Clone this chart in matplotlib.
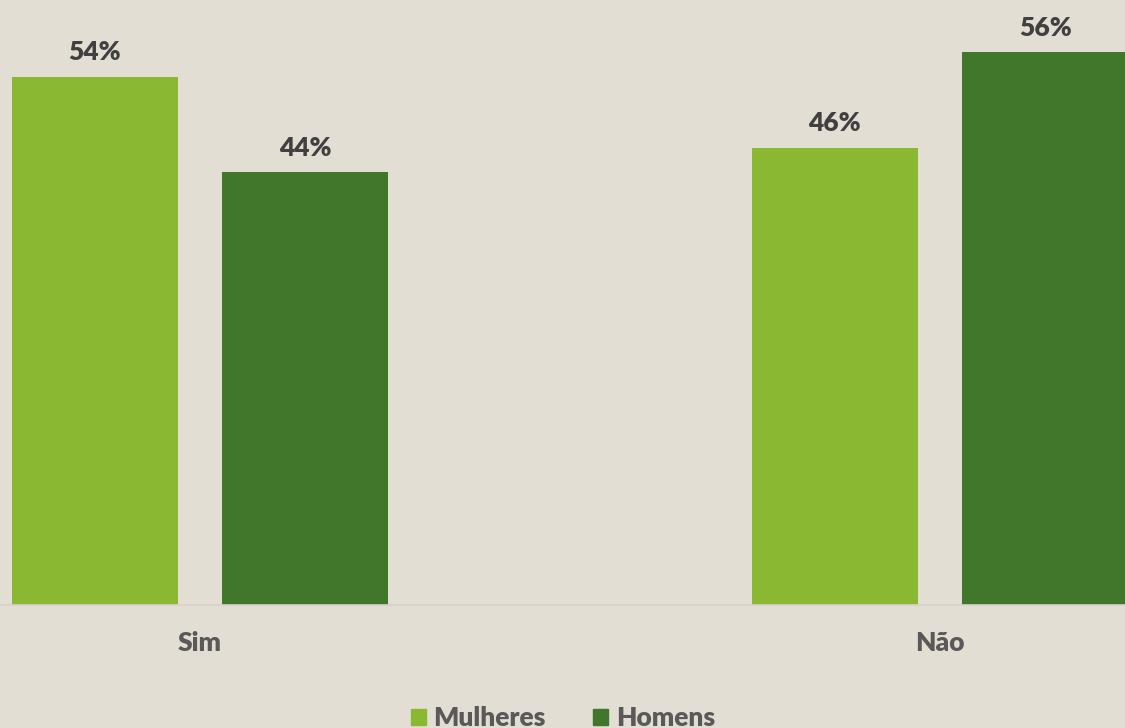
import numpy as np
import matplotlib.pyplot as plt
import matplotlib.patches as mpatches

# === data ===
categories = ["Sim", "Não"]
mulheres = [53.6, 46.4]
homens = [43.9, 56.1]
series_names = ["Mulheres", "Homens"]

# === style ===
bg = "#E3DED3"
c_light = "#8BB833"
c_dark = "#41772A"
label_color = "#404040"
cat_color = "#595959"
plt.rcParams["font.family"] = ["Lato", "DejaVu Sans"]

fig = plt.figure(figsize=(11.25, 7.28), dpi=100, facecolor=bg)
ax = fig.add_axes([0, 123 / 728, 1, 605 / 728])
ax.set_facecolor(bg)

x = np.arange(len(categories))
width = 0.2243
offset = 0.142

b1 = ax.bar(x - offset, mulheres, width, color=c_light, label=series_names[0])
b2 = ax.bar(x + offset, homens, width, color=c_dark, label=series_names[1])

for bars, vals in [(b1, mulheres), (b2, homens)]:
    for rect, v in zip(bars, vals):
        ax.annotate(f"{v:.0f}%", (rect.get_x() + rect.get_width() / 2, rect.get_height()),
                    xytext=(0, 9), textcoords="offset points", ha="center", va="bottom",
                    fontsize=19, fontweight="heavy", color=label_color)

ax.set_xlim(-0.270, 1.250)
ax.set_ylim(0, 61.4)
ax.set_xticks(x)
ax.set_xticklabels(categories, fontsize=19, fontweight="heavy", color=cat_color)
ax.tick_params(axis="x", length=0, pad=19)
ax.set_yticks([])
for s in ["top", "right", "left"]:
    ax.spines[s].set_visible(False)
ax.spines["bottom"].set_color("#D6D3CC")
ax.spines["bottom"].set_linewidth(1.2)

handles = [mpatches.Patch(color=c_light, label=series_names[0]),
           mpatches.Patch(color=c_dark, label=series_names[1])]
leg = fig.legend(handles=handles, loc="center", bbox_to_anchor=(563 / 1125, 10 / 728),
                 ncol=2, frameon=False, handlelength=0.56, handleheight=0.56,
                 handletextpad=0.3, columnspacing=1.8,
                 prop={"family": "Lato", "weight": "heavy", "size": 19})
for t in leg.get_texts():
    t.set_color(cat_color)

fig.savefig("out.png", dpi=100, facecolor=bg)
